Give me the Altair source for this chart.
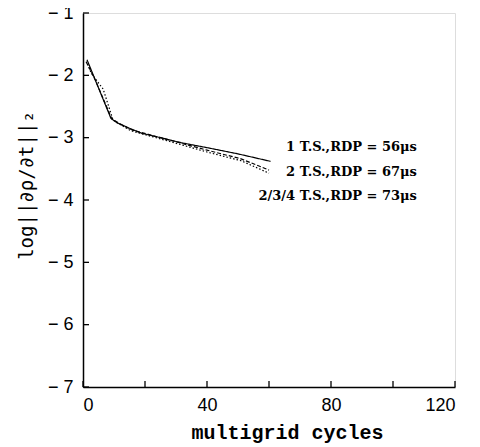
import altair as alt
import pandas as pd

# Series (multigrid cycles, log residual)
cycles_1 = [1.3, 9.0, 11.0, 15.0, 19.0, 25.0, 31.6, 40.0, 50.0, 60.5]
logres_1 = [-1.75, -2.69, -2.76, -2.85, -2.93, -3.00, -3.08, -3.16, -3.26, -3.38]

cycles_2 = [1.0, 4.0, 9.3, 12.0, 16.0, 25.0, 40.0, 51.0, 60.0]
logres_2 = [-1.78, -2.08, -2.70, -2.78, -2.88, -3.00, -3.20, -3.34, -3.52]

cycles_3 = [1.5, 2.6, 4.8, 6.5, 9.7, 12.0, 15.5, 25.0, 40.0, 51.0, 60.0]
logres_3 = [-1.82, -1.96, -2.11, -2.22, -2.72, -2.79, -2.89, -3.02, -3.23, -3.37, -3.57]

series_names = ["1 T.S.", "2 T.S.", "2/3/4 T.S."]

labels = ["1 T.S.,RDP = 56μs", "2 T.S.,RDP = 67μs", "2/3/4 T.S.,RDP = 73μs"]
label_x = [107.7, 107.7, 107.7]
label_y = [-3.15, -3.55, -3.94]

x_ticks = [0, 20, 40, 60, 80, 100, 120]
y_ticks = [-1, -2, -3, -4, -5, -6, -7]

rows = []
for name, xs, ys in zip(series_names, [cycles_1, cycles_2, cycles_3], [logres_1, logres_2, logres_3]):
    for xv, yv in zip(xs, ys):
        rows.append({"series": name, "cycles": xv, "logres": yv})
df = pd.DataFrame(rows)

W, H = 372, 374
xs_ = alt.Scale(domain=[0, 120], nice=False, zero=False)
ys_ = alt.Scale(domain=[-7, -1], nice=False, zero=False)

x_axis = alt.Axis(
    values=x_ticks, ticks=False, grid=False,
    labelExpr="indexof([0,40,80,120], datum.value) >= 0 ? datum.label : ''",
    labelFont="Liberation Sans", labelFontSize=18, labelColor="black", labelPadding=9,
    domainColor="black", domainWidth=1.5,
    title="multigrid cycles", titleFont="Liberation Mono", titleFontWeight="bold",
    titleFontSize=20, titleColor="black", titleX=204, titleY=51, titleAlign="center",
    titleBaseline="alphabetic",
)
y_axis = alt.Axis(
    values=y_ticks, ticks=False, grid=False,
    labelExpr="'− ' + abs(datum.value)",
    labelFont="Liberation Sans", labelFontSize=18, labelColor="black", labelPadding=10,
    domainColor="black", domainWidth=1.5,
    title="log||∂ρ/∂t||₂", titleFont="DejaVu Sans Mono", titleFontWeight="normal",
    titleFontSize=19, titleColor="black", titleX=-57, titleY=172, titleAngle=270,
    titleAlign="center", titleBaseline="middle",
)

lines = alt.Chart(df).mark_line(color="black", strokeWidth=1.2).encode(
    x=alt.X("cycles:Q", scale=xs_, axis=x_axis),
    y=alt.Y("logres:Q", scale=ys_, axis=y_axis),
    strokeDash=alt.StrokeDash(
        "series:N",
        scale=alt.Scale(domain=series_names, range=[[1, 0], [4, 2], [1.5, 2]]),
        legend=None,
    ),
    detail="series:N",
)

xt = alt.Chart(pd.DataFrame({"t": x_ticks})).mark_rule(color="black", strokeWidth=1.3).encode(
    x=alt.X("t:Q", scale=xs_), y=alt.value(H), y2=alt.value(H - 6)
)
yt = alt.Chart(pd.DataFrame({"t": y_ticks})).mark_rule(color="black", strokeWidth=1.3).encode(
    y=alt.Y("t:Q", scale=ys_), x=alt.value(0), x2=alt.value(6)
)

ann = alt.Chart(pd.DataFrame({"x": label_x, "y": label_y, "text": labels})).mark_text(
    align="right", baseline="middle", font="DejaVu Serif", fontWeight="bold",
    fontSize=13, color="black"
).encode(
    x=alt.X("x:Q", scale=xs_), y=alt.Y("y:Q", scale=ys_), text="text:N"
)

chart = alt.layer(lines, xt, yt, ann).properties(
    width=W, height=H,
    autosize=alt.AutoSizeParams(type="none"),
    padding={"left": 75, "top": 5, "right": 17, "bottom": 60},
).configure_view(stroke=None).configure(background="white")

chart.save("out.html", embed_options={"renderer": "svg", "actions": False})
